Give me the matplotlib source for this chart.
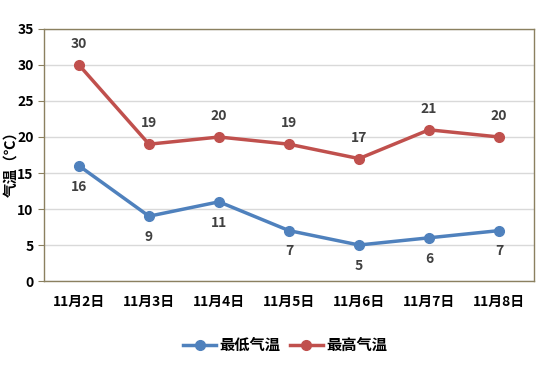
import matplotlib.pyplot as plt

plt.rcParams['font.family'] = ['Noto Sans CJK SC', 'DejaVu Sans']

dates = ['11月2日', '11月3日', '11月4日', '11月5日', '11月6日', '11月7日', '11月8日']
low_temp = [16, 9, 11, 7, 5, 6, 7]
high_temp = [30, 19, 20, 19, 17, 21, 20]

fig = plt.figure(figsize=(5.48, 3.66), dpi=100)
ax = fig.add_axes([0.0803, 0.2322, 0.8942, 0.6886])

x = range(len(dates))
ax.plot(x, low_temp, color='#4F81BD', lw=2.5, marker='o', ms=7, label='最低气温', zorder=3)
ax.plot(x, high_temp, color='#C0504D', lw=2.5, marker='o', ms=7, label='最高气温', zorder=3)

for i, v in enumerate(low_temp):
    ax.annotate(str(v), (i, v), xytext=(0, -10), textcoords='offset points',
                ha='center', va='top', fontsize=10, fontweight='bold', color='#404040')
for i, v in enumerate(high_temp):
    ax.annotate(str(v), (i, v), xytext=(0, 10), textcoords='offset points',
                ha='center', va='bottom', fontsize=10, fontweight='bold', color='#404040')

ax.set_xlim(-0.5, len(dates) - 0.5)
ax.set_ylim(0, 35)
ax.set_yticks(range(0, 36, 5))
ax.set_xticks(list(x))
ax.set_xticklabels(dates, fontsize=10, fontweight='bold')
ax.tick_params(axis='y', labelsize=10, length=4, color='#8B8060', direction='out')
ax.tick_params(axis='x', length=0, pad=10)
for lbl in ax.get_yticklabels():
    lbl.set_fontweight('bold')
ax.grid(axis='y', color='#D9D9D9', lw=1)
ax.set_axisbelow(True)
for s in ax.spines.values():
    s.set_color('#8B8060')
    s.set_linewidth(1)

# y label sits at the far left edge, overlapping the tick labels a bit
fig.text(0.019, 0.563, '气温（℃）', rotation=90, ha='center', va='center',
         fontsize=10.5, fontweight='bold')

fig.legend(loc='center', bbox_to_anchor=(0.52, 0.057), ncol=2, frameon=False,
           handlelength=2.2, columnspacing=0.6, handletextpad=0.2,
           prop={'weight': 'bold', 'size': 11})

fig.savefig('out.png', dpi=100)
